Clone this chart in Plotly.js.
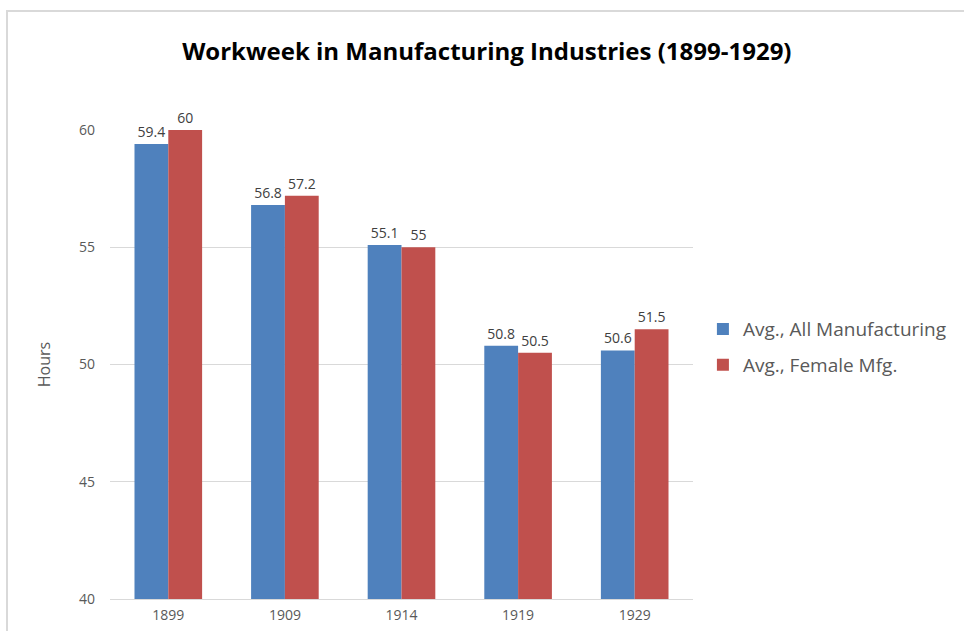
<!DOCTYPE html>
<html>
<head>
<meta charset="utf-8">
<script src="https://cdn.plot.ly/plotly-3.0.1.min.js"></script>
<style>
  html, body { margin: 0; padding: 0; background: #fff; }
  #chart { width: 964px; height: 631px; }
  #frame { position: absolute; left: 6px; top: 10px; width: 964px; height: 640px;
           border-left: 2px solid #d9d9d9; border-top: 2px solid #d9d9d9; pointer-events: none; }
</style>
</head>
<body>
<div id="chart"></div>
<div id="frame"></div>
<script>
const years = ['1899', '1909', '1914', '1919', '1929'];
const allMfg = [59.4, 56.8, 55.1, 50.8, 50.6];
const femaleMfg = [60, 57.2, 55, 50.5, 51.5];
const seriesNames = ['Avg., All Manufacturing', 'Avg., Female Mfg.'];
const yTicks = [40, 45, 50, 55, 60];

const FONT = '"Open Sans", sans-serif';
const labelFont = { family: FONT, size: 14, color: '#404040' };

const traces = [
  {
    type: 'bar', name: seriesNames[0], x: years, y: allMfg,
    marker: { color: '#4f81bd' },
    text: allMfg.map(String), textposition: 'outside', cliponaxis: false,
    textfont: labelFont, legendgroup: 'a'
  },
  {
    type: 'bar', name: seriesNames[1], x: years, y: femaleMfg,
    marker: { color: '#c0504d' },
    text: femaleMfg.map(String), textposition: 'outside', cliponaxis: false,
    textfont: labelFont, legendgroup: 'b'
  }
];

const layout = {
  width: 964, height: 631,
  margin: { l: 110, r: 269, t: 130, b: 32 },
  paper_bgcolor: '#fff', plot_bgcolor: '#fff',
  barmode: 'group', bargap: 0.42, bargroupgap: 0,
  title: {
    text: '<b>Workweek in Manufacturing Industries (1899-1929)</b>',
    font: { family: FONT, size: 24, color: '#000' },
    x: 0.505, xanchor: 'center', y: 1 - 52 / 631, yanchor: 'middle', yref: 'container'
  },
  xaxis: {
    type: 'category', tickvals: years, ticktext: years,
    showline: true, linecolor: '#d9d9d9', linewidth: 1,
    showgrid: false, ticks: '', ticklabelstandoff: 3,
    tickfont: { family: FONT, size: 14, color: '#595959' }
  },
  yaxis: {
    range: [40, 60], tickvals: yTicks, ticktext: yTicks.map(String),
    showgrid: true, gridcolor: '#d9d9d9', gridwidth: 1,
    zeroline: false, showline: false, ticks: '', ticklabelstandoff: 14,
    tickfont: { family: FONT, size: 14, color: '#595959' },
    title: { text: 'Hours', font: { family: FONT, size: 16, color: '#595959' }, standoff: 24 }
  },
  legend: {
    x: 1.017, xanchor: 'left', y: 0.537, yanchor: 'middle',
    traceorder: 'grouped', tracegroupgap: 8,
    font: { family: FONT, size: 19, color: '#595959' },
    itemwidth: 30
  },
  showlegend: true
};

Plotly.newPlot('chart', traces, layout, { displayModeBar: false, staticPlot: true });
</script>
</body>
</html>
